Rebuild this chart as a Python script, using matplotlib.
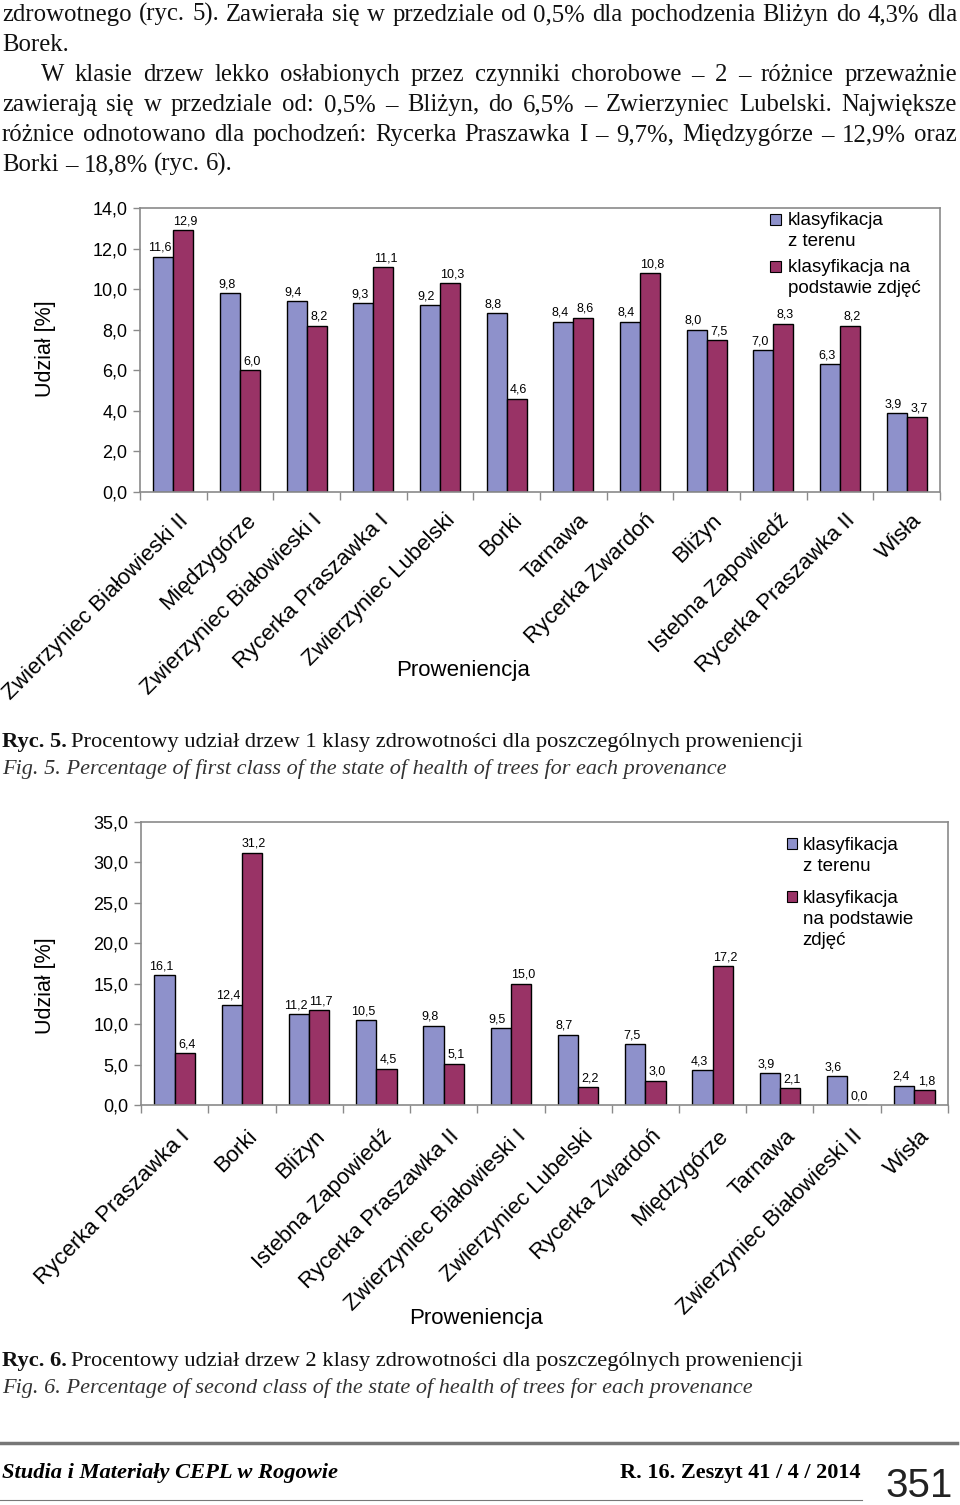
import matplotlib
matplotlib.use('Agg')
import numpy as np
import matplotlib.pyplot as plt
from matplotlib.lines import Line2D
from matplotlib.patches import Rectangle
from matplotlib.transforms import ScaledTranslation

W, H = 960, 1505
dpi = 100

blue = '#8E91CB'
red = '#993366'
frame = '#8A8A8A'

# Ryc. 5 - 1 klasa zdrowotnosci
prov_1 = ['Zwierzyniec Białowieski II', 'Międzygórze', 'Zwierzyniec Białowieski I',
          'Rycerka Praszawka I', 'Zwierzyniec Lubelski', 'Borki', 'Tarnawa',
          'Rycerka Zwardoń', 'Bliżyn', 'Istebna Zapowiedź', 'Rycerka Praszawka II', 'Wisła']
field_1 = [11.6, 9.8, 9.4, 9.3, 9.2, 8.8, 8.4, 8.4, 8.0, 7.0, 6.3, 3.9]
photo_1 = [12.9, 6.0, 8.2, 11.1, 10.3, 4.6, 8.6, 10.8, 7.5, 8.3, 8.2, 3.7]

# Ryc. 6 - 2 klasa zdrowotnosci
prov_2 = ['Rycerka Praszawka I', 'Borki', 'Bliżyn', 'Istebna Zapowiedź',
          'Rycerka Praszawka II', 'Zwierzyniec Białowieski I', 'Zwierzyniec Lubelski',
          'Rycerka Zwardoń', 'Międzygórze', 'Tarnawa', 'Zwierzyniec Białowieski II', 'Wisła']
field_2 = [16.1, 12.4, 11.2, 10.5, 9.8, 9.5, 8.7, 7.5, 4.3, 3.9, 3.6, 2.4]
photo_2 = [6.4, 31.2, 11.7, 4.5, 5.1, 15.0, 2.2, 3.0, 17.2, 2.1, 0.0, 1.8]

body_lines = [
    'zdrowotnego (ryc. 5). Zawierała się w przedziale od 0,5% dla pochodzenia Bliżyn do 4,3% dla',
    'Borek.',
    'W klasie drzew lekko osłabionych przez czynniki chorobowe – 2 – różnice przeważnie',
    'zawierają się w przedziale od: 0,5% – Bliżyn, do 6,5% – Zwierzyniec Lubelski. Największe',
    'różnice odnotowano dla pochodzeń: Rycerka Praszawka I – 9,7%, Międzygórze – 12,9% oraz',
    'Borki – 18,8% (ryc. 6).',
]

plt.rcParams['font.family'] = ['Liberation Sans', 'DejaVu Sans']
fig = plt.figure(figsize=(W / dpi, H / dpi), dpi=dpi)
renderer = fig.canvas.get_renderer()
serif = ['Liberation Serif', 'DejaVu Serif']


def fmt(v):
    return f'{v:.1f}'.replace('.', ',')


def put_words(y, text, x0, x1=None, size=17.8, **kw):
    # place a line word by word, justified between x0 and x1 (pixels)
    words = text.split(' ')
    ts = [fig.text(0, 1 - y / H, w, fontsize=size, va='baseline',
                   family=serif, color='#111111', **kw) for w in words]
    ws = [t.get_window_extent(renderer).width for t in ts]
    if x1 is None or len(ws) < 2:
        gap = 0.25 * size * dpi / 72
    else:
        gap = (x1 - x0 - sum(ws)) / (len(ws) - 1)
    x = x0
    for t, w in zip(ts, ws):
        t.set_x(x / W)
        x += w + gap
    return x


def caption(y1, y2, tag, pl, en):
    t = fig.text(2 / W, 1 - y1 / H, tag, fontsize=16.2, fontweight='bold',
                 family=serif, va='baseline', color='#111111')
    w = t.get_window_extent(renderer).width
    fig.text((2 + w + 4) / W, 1 - y1 / H, pl, fontsize=16.2, family=serif,
             va='baseline', color='#111111')
    fig.text(2 / W, 1 - y2 / H, en, fontsize=16, family=serif, style='italic',
             va='baseline', color='#333333')


def bar_chart(rect, provs, field, photo, ymax, ystep, ylab_y, xlab, leg, xpad):
    ax = fig.add_axes(rect)
    x = np.arange(len(provs))
    w = 0.3
    b1 = ax.bar(x - w / 2, field, w, color=blue, edgecolor='black', linewidth=1.0)
    b2 = ax.bar(x + w / 2, photo, w, color=red, edgecolor='black', linewidth=1.0)
    l1 = ax.bar_label(b1, labels=[fmt(v) for v in field], padding=2, fontsize=9)
    l2 = ax.bar_label(b2, labels=[fmt(v) for v in photo], padding=2, fontsize=9)
    # excel puts the labels a little apart from each other
    for a in l1:
        a.xyann = (-2.5, 2)
    for a in l2:
        a.xyann = (1.5, 2)

    ax.set_xlim(-0.5, len(provs) - 0.5)
    ax.set_ylim(0, ymax)
    ax.set_yticks(np.arange(0, ymax + 0.01, ystep))
    ax.yaxis.set_major_formatter(lambda v, p: fmt(v))
    ax.tick_params(axis='y', labelsize=13, length=5, width=1, color=frame, pad=4)

    ax.set_xticks(x)
    ax.set_xticklabels(provs, rotation=45, ha='right', va='top',
                       rotation_mode='anchor', fontsize=16)
    ax.set_xticks(np.arange(-0.5, len(provs)), minor=True)
    ax.tick_params(axis='x', which='major', length=0, pad=xpad)
    ax.tick_params(axis='x', which='minor', length=6, width=1, color=frame)
    shift = ScaledTranslation(0.05, 0, fig.dpi_scale_trans)
    for lab in ax.get_xticklabels():
        lab.set_transform(lab.get_transform() + shift)

    for s in ax.spines.values():
        s.set_color(frame)
        s.set_linewidth(1.2)

    ax.text(-0.118, ylab_y, 'Udział [%]', transform=ax.transAxes, rotation=90,
            ha='center', va='center', fontsize=15.5)
    ax.text(xlab[0], xlab[1], 'Proweniencja', transform=ax.transAxes,
            ha='center', va='center', fontsize=16)

    # legend
    lx, tx, sq_w, sq_h, entries = leg
    for (sq_y, text_y, label), col in zip(entries, (blue, red)):
        ax.add_patch(Rectangle((lx, sq_y), sq_w, sq_h, transform=ax.transAxes,
                               facecolor=col, edgecolor='black', linewidth=0.8,
                               clip_on=False))
        ax.text(tx, text_y, label, transform=ax.transAxes, ha='left', va='top',
                fontsize=13.5, linespacing=1.32)
    return ax


# body text
baselines = [21, 51, 81, 111, 141, 171]
put_words(baselines[0], body_lines[0], 2, 957)
put_words(baselines[1], body_lines[1], 2)
put_words(baselines[2], body_lines[2], 41, 957)
put_words(baselines[3], body_lines[3], 2, 957)
put_words(baselines[4], body_lines[4], 2, 957)
put_words(baselines[5], body_lines[5], 2)

bar_chart([140 / W, 1 - 492 / H, 800 / W, 284 / H], prov_1, field_1, photo_1,
          14, 2, 0.503, (0.404, -0.63),
          (0.7875, 0.81, 0.0138, 0.0387,
           [((492 - 225) / 284, (492 - 212) / 284, 'klasyfikacja\nz terenu'),
            ((492 - 272) / 284, (492 - 259) / 284, 'klasyfikacja na\npodstawie zdjęć')]),
          13)

caption(747, 774, 'Ryc. 5.',
        'Procentowy udział drzew 1 klasy zdrowotności dla poszczególnych proweniencji',
        'Fig. 5. Percentage of first class of the state of health of trees for each provenance')

bar_chart([141 / W, 1 - 1105 / H, 807 / W, 283 / H], prov_2, field_2, photo_2,
          35, 5, 0.42, (0.415, -0.756),
          (0.8005, 0.820, 0.0124, 0.0389,
           [((1105 - 849) / 283, (1105 - 837) / 283, 'klasyfikacja\nz terenu'),
            ((1105 - 902) / 283, (1105 - 890) / 283, 'klasyfikacja\nna podstawie\nzdjęć')]),
          15)

caption(1366, 1393, 'Ryc. 6.',
        'Procentowy udział drzew 2 klasy zdrowotności dla poszczególnych proweniencji',
        'Fig. 6. Percentage of second class of the state of health of trees for each provenance')

# footer
fig.add_artist(Line2D([0, 957 / W], [1 - 1443 / H] * 2, color='#777777', linewidth=2.5,
                      transform=fig.transFigure))
fig.add_artist(Line2D([0, 862 / W], [1 - 1500 / H] * 2, color='#777777', linewidth=0.8,
                      transform=fig.transFigure))
fig.text(2 / W, 1 - 1478 / H, 'Studia i Materiały CEPL w Rogowie', fontsize=16.2,
         family=serif, fontweight='bold', style='italic', va='baseline')
fig.text(860 / W, 1 - 1478 / H, 'R. 16. Zeszyt 41 / 4 / 2014', fontsize=16,
         family=serif, fontweight='bold', ha='right', va='baseline')
fig.text(953 / W, 1 - 1497 / H, '351', fontsize=29, ha='right', va='baseline',
         family=['Liberation Sans Narrow', 'Liberation Sans'], color='#222222')

fig.savefig('out.png', dpi=dpi)
